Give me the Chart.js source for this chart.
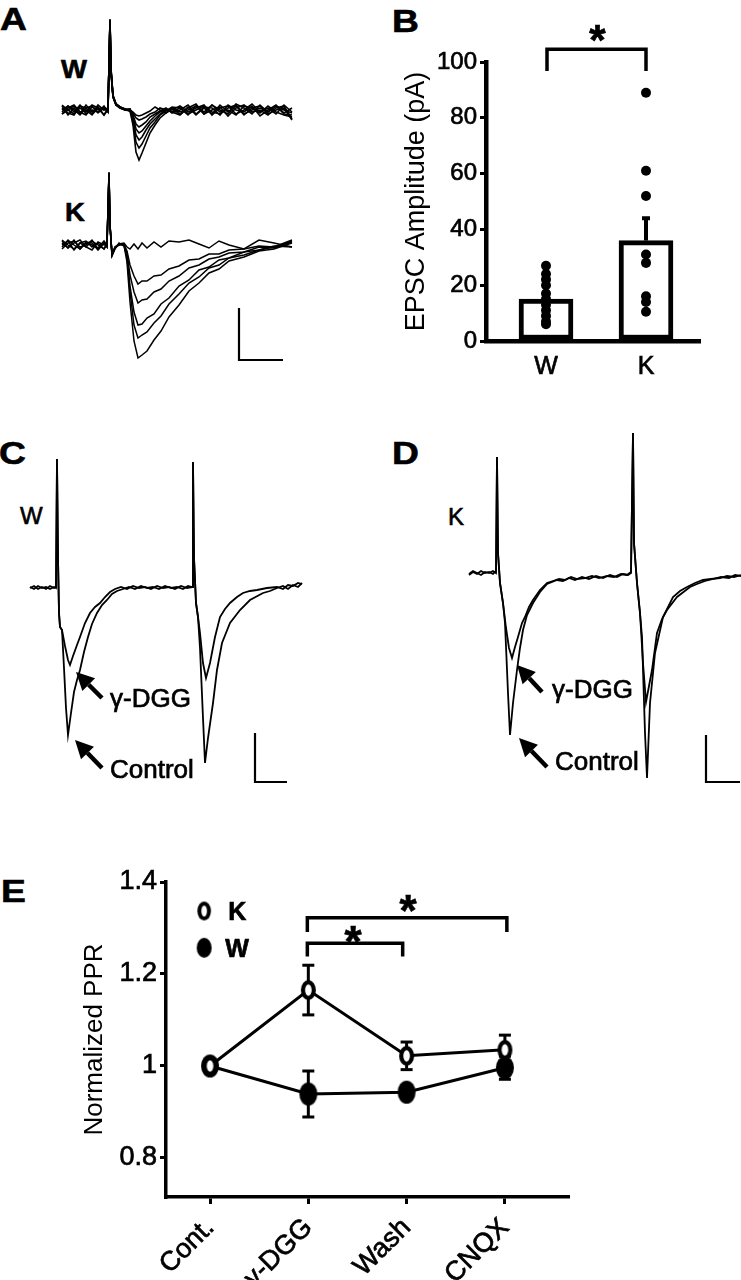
<!DOCTYPE html>
<html>
<head>
<meta charset="utf-8">
<script src="https://cdn.jsdelivr.net/npm/chart.js@4.4.1/dist/chart.umd.min.js"></script>
<style>
  body { margin: 0; background: #fff; }
  #fig { position: relative; width: 741px; height: 1280px; overflow: hidden; background: #fff;
         font-family: 'Liberation Sans', Arial, Helvetica, sans-serif; color: #000; }
  .box { position: absolute; }
  .box canvas { display: block; }
  .lbl { position: absolute; line-height: 1; white-space: nowrap; transform-origin: 0 0;
         -webkit-text-stroke: 0.6px #000; }
  .panel { font-weight: bold; font-size: 31px; transform: scaleX(1.2); }
  .tag { font-size: 25px; font-weight: bold; transform: scaleX(1.1); }
</style>
</head>
<body>
<div id="fig">
  <div class="lbl panel" style="left:0px;top:4px">A</div>
  <div class="lbl panel" style="left:392px;top:6px">B</div>
  <div class="lbl panel" style="left:-1px;top:438px">C</div>
  <div class="lbl panel" style="left:392px;top:438px">D</div>
  <div class="lbl panel" style="left:1px;top:876px">E</div>

  <div class="lbl tag" style="left:61px;top:57px">W</div>
  <div class="lbl tag" style="left:65px;top:200px">K</div>
  <div class="lbl" style="left:20px;top:504px;font-size:24px">W</div>
  <div class="lbl" style="left:448px;top:505px;font-size:24px">K</div>

  <div class="box" style="left:55px;top:10px"><canvas id="chartAW" width="245" height="165"></canvas></div>
  <div class="box" style="left:55px;top:165px"><canvas id="chartAK" width="245" height="205"></canvas></div>
  <div class="box" style="left:380px;top:10px"><canvas id="chartB" width="330" height="370"></canvas></div>
  <div class="box" style="left:25px;top:440px"><canvas id="chartC" width="285" height="350"></canvas></div>
  <div class="box" style="left:440px;top:430px"><canvas id="chartD" width="301" height="370"></canvas></div>
  <div class="box" style="left:40px;top:860px"><canvas id="chartE" width="560" height="420"></canvas></div>
</div>

<script>
// ---------- dados ----------
// A: tempo (relativo ao estímulo) e corrente de cada varredura sobreposta
const tAW = [-48,-42,-36,-30,-24,-18,-12,-6,-2,0,1,3,6,10,15,20,23,26,29,32,36,40,45,50,56,62,70,78,86,94,102,110,118,126,134,142,150,158,166,174,182];
const sweepsAW = [
  [4,-5,2,-4,5,-2,3,-5,0,90,40,14,6,3,1,-1,-15,-42,-50,-43,-33,-23,-15,-8,-3,1,-4,3,-5,2,-4,5,-2,4,-5,2,-3,4,-2,-5,-7],
  [-4,2,5,-2,-5,3,0,2,-2,88,38,13,5,2,0,1,-12,-32,-38,-34,-26,-18,-12,-5,-1,3,2,-5,4,-2,5,0,-4,6,2,-4,5,-2,4,0,-3],
  [2,-3,-5,4,2,-4,5,0,2,89,39,14,6,3,1,0,-9,-25,-30,-27,-20,-14,-9,-4,0,-2,-5,2,6,-4,0,3,-6,2,5,-2,0,-5,2,4,-9],
  [-2,4,0,-5,2,4,-3,2,0,90,41,15,6,2,1,-1,-7,-19,-23,-21,-16,-11,-6,-2,1,0,4,-2,2,5,-5,2,4,-4,0,6,-2,2,-4,5,-2],
  [5,0,-4,2,-2,5,2,-5,2,87,37,13,5,3,0,1,-5,-14,-17,-15,-12,-7,-4,-1,2,-3,0,5,-4,3,2,-5,5,0,-2,4,-6,0,5,-3,2],
  [0,4,-2,5,-4,0,-2,4,-2,91,42,14,6,3,1,0,-2,-5,-6,-5,-3,-1,3,0,-3,2,-2,0,4,-4,5,-2,0,-5,4,2,4,-4,0,2,-10],
  [-4,0,4,-2,0,-5,2,0,2,89,40,13,5,2,0,-1,-3,-8,-10,-9,-7,-4,-2,2,0,-2,2,-4,0,4,-2,-4,2,5,-4,0,2,-2,4,-4,-5]
];
const tAK = [-47,-41,-35,-29,-23,-17,-11,-5,-2,0,1,3,6,10,15,18,21,25,29,33,38,45,52,60,70,80,90,100,110,120,135,150,165,183];
const sweepsAK = [
  [4,-3,2,5,-2,-5,3,0,2,72,20,-10,-3,1,0,-17,-57,-96,-113,-110,-106,-95,-86,-72,-60,-46,-38,-28,-24,-16,-12,-6,-4,2],
  [-2,5,0,-4,3,2,-5,2,-2,70,19,-9,-2,0,1,-13,-46,-80,-93,-90,-87,-78,-71,-59,-49,-38,-32,-23,-20,-13,-10,-5,-2,4],
  [5,0,-4,2,-2,4,0,-4,0,73,21,-11,-4,2,-1,-12,-41,-67,-80,-79,-73,-69,-59,-53,-41,-35,-25,-22,-15,-13,-7,-5,-1,-2],
  [0,4,-5,2,4,-2,2,-4,3,71,19,-10,-3,0,1,-8,-30,-47,-58,-55,-54,-47,-44,-36,-31,-23,-20,-14,-12,-8,-7,-2,-3,3],
  [-4,2,4,-2,0,5,-4,2,-2,72,20,-9,-3,1,0,-6,-20,-31,-39,-36,-36,-31,-30,-24,-21,-15,-14,-9,-9,-5,-4,-1,-2,5],
  [2,-3,5,-4,2,0,-3,4,0,72,20,-10,-2,1,2,-2,-4,1,-4,2,-3,3,-2,4,3,5,1,-3,4,0,-4,5,2,-2]
];

// C (W) e D (K): pares [tempo, corrente], controle e γ-DGG
const cControl = [[-27,0],[-23,2],[-19,-1],[-15,1],[-11,-1],[-7,2],[-3,0],[-1,1],
  [0,129],[1,30],[2,-25],[3,-39],[5,-42],[7,-80],[9,-120],[11,-147],[14,-125],[17,-104],[20,-92],[23,-82],[27,-64],[31,-49],[35,-36],[40,-25],[45,-17],[50,-12],[55,-6],[60,-3],[66,-1],[72,1],[78,-1],[84,2],[90,0],[96,1],[102,-1],[108,2],[114,0],[120,1],[126,-1],[131,2],[135,1],
  [136,126],[137,30],[139,-15],[141,-29],[143,-60],[146,-130],[148,-175],[151,-150],[156,-115],[160,-82],[165,-55],[173,-35],[183,-22],[193,-12],[206,-5],[213,-3],[220,0],[226,2],[231,-1],[236,3],[241,1],[245,5]];
const cDgg = [[-27,1],[-23,-1],[-19,2],[-15,0],[-11,1],[-7,-1],[-3,1],[-1,0],
  [0,129],[1,30],[2,-25],[3,-39],[5,-42],[8,-58],[11,-72],[13,-77],[16,-68],[20,-57],[23,-49],[28,-35],[33,-25],[38,-19],[43,-15],[48,-9],[53,-4],[58,-1],[64,1],[70,-1],[76,2],[82,0],[88,1],[94,-1],[100,2],[106,0],[112,1],[118,-1],[124,2],[130,0],[135,1],
  [136,126],[137,30],[139,-15],[141,-29],[143,-45],[146,-75],[149,-90],[153,-75],[158,-49],[163,-29],[168,-21],[173,-15],[180,-9],[186,-5],[193,-3],[200,-2],[210,0],[220,1],[226,-1],[231,3],[236,2],[241,5],[245,4]];
const dControl = [[-28,-2],[-24,1],[-20,-1],[-16,2],[-12,0],[-8,1],[-4,-1],[-1,2],
  [0,116],[1,20],[3,-10],[6,-30],[8,-50],[11,-120],[13,-162],[16,-130],[20,-97],[23,-75],[26,-57],[30,-42],[36,-30],[43,-19],[50,-11],[55,-9],[60,-7],[66,-8],[72,-5],[78,-7],[85,-4],[92,-6],[99,-3],[106,-5],[113,-2],[120,-4],[126,-1],[131,-2],[134,0],
  [136,140],[137,30],[140,-10],[143,-40],[145,-64],[148,-160],[150,-205],[153,-130],[158,-80],[166,-44],[176,-24],[183,-18],[190,-14],[198,-10],[206,-7],[214,-6],[223,-5],[230,-3],[237,-4],[244,-2]];
const dDgg = [[-28,-1],[-24,2],[-20,0],[-16,-2],[-12,1],[-8,0],[-4,2],[-1,0],
  [0,116],[1,20],[3,-10],[6,-30],[9,-55],[12,-75],[15,-85],[18,-74],[21,-64],[25,-50],[28,-44],[32,-34],[36,-27],[43,-17],[50,-10],[56,-8],[62,-6],[68,-7],[74,-4],[80,-6],[88,-5],[95,-3],[102,-5],[110,-3],[117,-4],[124,-1],[130,-2],[134,1],
  [136,140],[137,30],[140,-10],[143,-40],[146,-90],[149,-129],[155,-97],[160,-60],[165,-46],[170,-37],[180,-24],[193,-14],[200,-11],[208,-8],[216,-6],[224,-4],[232,-5],[238,-2],[244,-3]];

// B: amplitude do EPSC (pA)
const catsB = ['W', 'K'];
const meanB = [15, 36];
const semB = [2, 8];
const ampW = [27, 24, 22, 20, 17, 15, 13, 11, 9, 7, 6];
const ampK = [89, 61, 52, 31, 28, 16, 14, 10.5];

// E: PPR normalizado
const catsE = ['Cont.', 'γ-DGG', 'Wash', 'CNQX'];
const pprK = [1.0, 1.165, 1.022, 1.035];
const semK = [0, 0.054, 0.03, 0.032];
const pprW = [1.0, 0.939, 0.943, 0.996];
const semW = [0, 0.05, 0.008, 0.025];
const ticksE = [0.8, 1, 1.2, 1.4];

// ---------- helpers ----------
const FONT = "'Liberation Sans', Arial, Helvetica, sans-serif";
Chart.defaults.font.family = FONT;
Chart.defaults.color = '#000';

function seg(ctx, pts) {
  ctx.beginPath();
  ctx.moveTo(pts[0][0], pts[0][1]);
  for (let i = 1; i < pts.length; i++) ctx.lineTo(pts[i][0], pts[i][1]);
  ctx.stroke();
}

function label(ctx, txt, x, y, font, align) {
  ctx.font = font;
  ctx.textAlign = align || 'left';
  ctx.textBaseline = 'alphabetic';
  ctx.lineWidth = 0.7;
  ctx.fillText(txt, x, y);
  ctx.strokeText(txt, x, y);
}

function arrow(ctx, x0, y0, x1, y1) {
  const a = Math.atan2(y1 - y0, x1 - x0), L = 18, W = 9;
  const bx = x1 - L * Math.cos(a), by = y1 - L * Math.sin(a);
  ctx.lineWidth = 4.5;
  seg(ctx, [[x0, y0], [bx, by]]);
  ctx.beginPath();
  ctx.moveTo(x1, y1);
  ctx.lineTo(bx + W * Math.sin(a), by - W * Math.cos(a));
  ctx.lineTo(bx - W * Math.sin(a), by + W * Math.cos(a));
  ctx.closePath();
  ctx.fill();
}

function star(ctx, x, y, size) {
  label(ctx, '*', x, y + 0.575 * size, 'bold ' + size + 'px ' + FONT, 'center');
}

function traceChart(id, xr, yr, traces, lw, draw) {
  return new Chart(document.getElementById(id), {
    type: 'line',
    data: {
      datasets: traces.map(tr => ({
        data: tr, borderColor: '#000', borderWidth: lw, pointRadius: 0, tension: 0, fill: false
      }))
    },
    options: {
      responsive: false, animation: false, events: [],
      layout: { padding: 0 },
      plugins: { legend: { display: false }, tooltip: { enabled: false } },
      scales: {
        x: { type: 'linear', display: false, min: xr[0], max: xr[1] },
        y: { display: false, min: yr[0], max: yr[1] }
      }
    },
    plugins: draw ? [{ id: 'extra', afterDatasetsDraw: draw }] : []
  });
}

// desenha barra de escala, setas e textos em unidades dos dados
function overlay(bar, notes) {
  return function (chart) {
    const { ctx } = chart;
    const X = v => chart.scales.x.getPixelForValue(v);
    const Y = v => chart.scales.y.getPixelForValue(v);
    ctx.save();
    ctx.strokeStyle = '#000';
    ctx.fillStyle = '#000';
    ctx.lineWidth = 2.2;
    seg(ctx, [[X(bar[0]), Y(bar[1])], [X(bar[0]), Y(bar[2])], [X(bar[3]), Y(bar[2])]]);
    (notes || []).forEach(n => {
      arrow(ctx, X(n.tail[0]), Y(n.tail[1]), X(n.tip[0]), Y(n.tip[1]));
      label(ctx, n.text, X(n.at[0]), Y(n.at[1]), '26px ' + FONT);
    });
    ctx.restore();
  };
}

// ---------- A ----------
traceChart('chartAW', [-55, 190], [-65, 100],
  sweepsAW.map(s => s.map((v, i) => ({ x: tAW[i], y: v }))), 1.6);
traceChart('chartAK', [-54, 191], [-125, 80],
  sweepsAK.map(s => s.map((v, i) => ({ x: tAK[i], y: v }))), 1.5,
  overlay([130, -63, -115, 174]));

// ---------- C / D ----------
const toXY = arr => arr.map(p => ({ x: p[0], y: p[1] }));
traceChart('chartC', [-32, 253], [-202, 148], [toXY(cControl), toXY(cDgg)], 1.8,
  overlay([198, -145, -194, 230], [
    { tail: [45, -110], tip: [19, -84], text: 'γ-DGG', at: [53, -119] },
    { tail: [45, -180], tip: [18, -152], text: 'Control', at: [53, -190] }
  ]));
traceChart('chartD', [-57, 244], [-227, 143], [toXY(dControl), toXY(dDgg)], 1.8,
  overlay([209, -162, -209, 243], [
    { tail: [45, -119], tip: [20, -92], text: 'γ-DGG', at: [55, -125] },
    { tail: [50, -194], tip: [22, -165], text: 'Control', at: [58, -197] }
  ]));

// ---------- B ----------
new Chart(document.getElementById('chartB'), {
  type: 'bar',
  data: {
    datasets: [
      {
        type: 'line', showLine: false,
        data: ampW.map(v => ({ x: 0, y: v })).concat(ampK.map(v => ({ x: 1, y: v }))),
        pointRadius: 5, pointBackgroundColor: '#000', pointBorderWidth: 0
      },
      {
        type: 'bar',
        data: meanB.map((v, i) => ({ x: i, y: v })),
        backgroundColor: '#fff', borderColor: '#000', borderWidth: 5, borderSkipped: false,
        barThickness: 54
      }
    ]
  },
  options: {
    responsive: false, animation: false, events: [],
    layout: { padding: { top: 52, right: 10, left: 0, bottom: 0 } },
    plugins: { legend: { display: false }, tooltip: { enabled: false } },
    scales: {
      x: {
        type: 'linear', min: -0.6, max: 1.54, offset: false,
        grid: { display: false, drawTicks: false },
        border: { display: true, color: '#000', width: 4.5 },
        ticks: { font: { size: 25 }, color: '#000', padding: 11, textStrokeColor: '#000', textStrokeWidth: 0.7,
                 callback: v => catsB[v] },
        afterBuildTicks: s => { s.ticks = catsB.map((c, i) => ({ value: i })); },
        afterFit: s => { s.height = 39; }
      },
      y: {
        min: 0, max: 100,
        ticks: { stepSize: 20, font: { size: 24 }, color: '#000', padding: 3, textStrokeColor: '#000', textStrokeWidth: 0.7 },
        grid: { drawOnChartArea: false, color: '#000', lineWidth: 3, tickLength: 6 },
        border: { display: true, color: '#000', width: 4.5 },
        title: { display: true, text: 'EPSC Amplitude (pA)', font: { size: 27 }, color: '#000', padding: { top: 20, bottom: 0 } },
        afterFit: s => { s.width = 106; }
      }
    }
  },
  plugins: [{
    id: 'errB',
    afterDatasetsDraw(chart) {
      const { ctx } = chart;
      const X = v => chart.scales.x.getPixelForValue(v);
      const Y = v => chart.scales.y.getPixelForValue(v);
      ctx.save();
      ctx.strokeStyle = '#000';
      ctx.fillStyle = '#000';
      ctx.lineWidth = 4;
      meanB.forEach((m, i) => {
        seg(ctx, [[X(i), Y(m)], [X(i), Y(m + semB[i])]]);
        seg(ctx, [[X(i) - 4, Y(m + semB[i])], [X(i) + 4, Y(m + semB[i])]]);
      });
      ctx.lineWidth = 3.5;
      seg(ctx, [[X(0.01), Y(96.8)], [X(0.01), Y(104.6)], [X(1), Y(104.6)], [X(1), Y(96.8)]]);
      star(ctx, X(0.515), Y(111.5), 42);
      ctx.restore();
    }
  }]
});

// ---------- E ----------
function ellipseMarker(rx, ry, ring) {
  const c = document.createElement('canvas');
  c.width = Math.ceil(2 * rx + 2); c.height = Math.ceil(2 * ry + 2);
  const g = c.getContext('2d');
  g.fillStyle = '#000';
  g.beginPath(); g.ellipse(c.width / 2, c.height / 2, rx, ry, 0, 0, 2 * Math.PI); g.fill();
  if (ring) {
    g.fillStyle = '#fff';
    g.beginPath(); g.ellipse(c.width / 2, c.height / 2, rx - ring, ry - ring, 0, 0, 2 * Math.PI); g.fill();
  }
  return c;
}
const markK = ellipseMarker(7.5, 10, 4.2);
const markW = ellipseMarker(9, 11.5, 0);
const legK = ellipseMarker(6.8, 9.5, 4);
const legW = ellipseMarker(7.5, 10, 0);

new Chart(document.getElementById('chartE'), {
  type: 'line',
  data: {
    datasets: [
      { label: 'K', data: pprK.map((v, i) => ({ x: i, y: v })), borderColor: '#000', borderWidth: 3,
        pointStyle: markK, pointRadius: 10, tension: 0 },
      { label: 'W', data: pprW.map((v, i) => ({ x: i, y: v })), borderColor: '#000', borderWidth: 3,
        pointStyle: markW, pointRadius: 10, tension: 0 }
    ]
  },
  options: {
    responsive: false, animation: false, events: [],
    layout: { padding: { top: 22, right: 32, left: 0, bottom: 0 } },
    plugins: { legend: { display: false }, tooltip: { enabled: false } },
    scales: {
      x: {
        type: 'linear', min: -0.448, max: 3.642, offset: false,
        grid: { drawOnChartArea: false, color: '#000', lineWidth: 3, tickLength: 7 },
        border: { display: true, color: '#000', width: 3.5 },
        ticks: { font: { size: 27 }, color: '#000', padding: 8, minRotation: 45, maxRotation: 45, autoSkip: false,
                 textStrokeColor: '#000', textStrokeWidth: 0.7, callback: v => catsE[v] },
        afterBuildTicks: s => { s.ticks = catsE.map((c, i) => ({ value: i })); },
        afterFit: s => { s.height = 83; }
      },
      y: {
        min: 0.715, max: 1.4,
        grid: { drawOnChartArea: false, color: '#000', lineWidth: 3, tickLength: 6 },
        border: { display: true, color: '#000', width: 3.5 },
        ticks: { font: { size: 27 }, color: '#000', padding: 3, textStrokeColor: '#000', textStrokeWidth: 0.7,
                 callback: v => String(v) },
        afterBuildTicks: s => { s.ticks = ticksE.map(v => ({ value: v })); },
        title: { display: true, text: 'Normalized PPR', font: { size: 26 }, color: '#000', padding: { top: 39, bottom: 0 } },
        afterFit: s => { s.width = 126; }
      }
    }
  },
  plugins: [{
    id: 'extrasE',
    beforeDatasetsDraw(chart) {
      const { ctx } = chart;
      const X = v => chart.scales.x.getPixelForValue(v);
      const Y = v => chart.scales.y.getPixelForValue(v);
      ctx.save();
      ctx.strokeStyle = '#000';
      ctx.lineWidth = 3;
      [[pprK, semK], [pprW, semW]].forEach(([m, s]) => {
        m.forEach((v, i) => {
          if (!s[i]) return;
          const x = X(i), y0 = Y(v - s[i]), y1 = Y(v + s[i]);
          seg(ctx, [[x, y0], [x, y1]]);
          seg(ctx, [[x - 6, y0], [x + 6, y0]]);
          seg(ctx, [[x - 6, y1], [x + 6, y1]]);
        });
      });
      ctx.restore();
    },
    afterDraw(chart) {
      const { ctx } = chart;
      const X = v => chart.scales.x.getPixelForValue(v);
      const Y = v => chart.scales.y.getPixelForValue(v);
      ctx.save();
      ctx.strokeStyle = '#000';
      ctx.fillStyle = '#000';
      ctx.lineWidth = 3.5;
      // comparações com γ-DGG
      seg(ctx, [[X(0.99), Y(1.291)], [X(0.99), Y(1.322)], [X(3.02), Y(1.322)], [X(3.02), Y(1.291)]]);
      seg(ctx, [[X(0.99), Y(1.238)], [X(0.99), Y(1.267)], [X(1.96), Y(1.267)], [X(1.96), Y(1.238)]]);
      star(ctx, X(2.014), Y(1.359), 44);
      star(ctx, X(1.455), Y(1.291), 44);
      // legenda
      const lx = X(-0.06);
      ctx.drawImage(legK, lx - legK.width / 2, Y(1.337) - legK.height / 2);
      ctx.drawImage(legW, lx - legW.width / 2, Y(1.257) - legW.height / 2);
      label(ctx, 'K', lx + 24, Y(1.337) + 9, 'bold 25px ' + FONT);
      label(ctx, 'W', lx + 21, Y(1.257) + 9, 'bold 25px ' + FONT);
      ctx.restore();
    }
  }]
});
</script>
</body>
</html>
